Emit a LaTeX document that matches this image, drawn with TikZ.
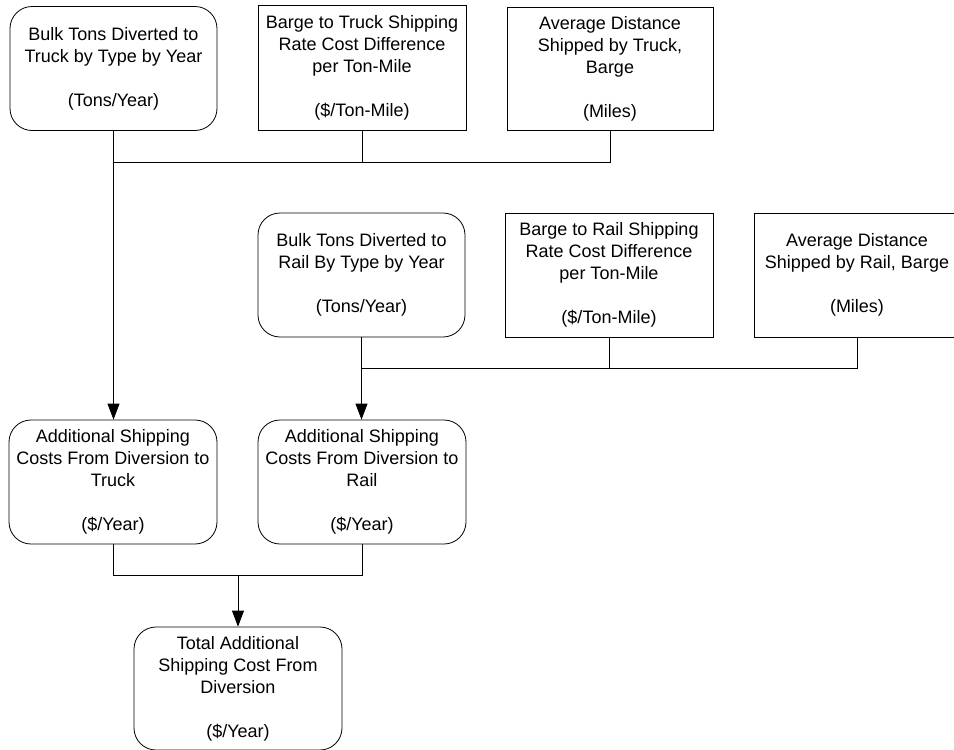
\documentclass[tikz,border=0pt]{standalone}
\usepackage{fontspec}
\setmainfont{Liberation Sans}
\usepackage{tikz}
\usetikzlibrary{arrows.meta, positioning, calc}

\begin{document}
\begin{tikzpicture}[x=1pt, y=-1pt,
    roundbox/.style={draw, line width=0.8pt, rounded corners=22pt, align=center,
      inner sep=2pt, minimum width=207pt, minimum height=124pt,
      font=\fontsize{18}{22}\selectfont},
    squarebox/.style={draw, line width=0.8pt, align=center,
      inner sep=2pt, minimum width=207pt, minimum height=124pt,
      font=\fontsize{18}{22}\selectfont},
    link/.style={line width=0.8pt},
    arrowlink/.style={line width=0.8pt, -{Triangle[length=16pt, width=12pt]}}]
  \useasboundingbox (0,0) rectangle (954,750);

  % Truck inputs
  \node[roundbox] (tonstruck) at (113.5, 68.5)
    {Bulk Tons Diverted to\\Truck by Type by Year\\[22pt](Tons/Year)};
  \node[squarebox, minimum width=208pt, minimum height=125pt] (ratetruck) at (362, 67.5)
    {Barge to Truck Shipping\\Rate Cost Difference\\per Ton-Mile\\[22pt](\$/Ton-Mile)};
  \node[squarebox, minimum width=206pt, minimum height=123pt] (disttruck) at (610, 68.5)
    {Average Distance\\Shipped by Truck,\\Barge\\[22pt](Miles)};

  % Rail inputs
  \node[roundbox] (tonsrail) at (361.5, 275)
    {Bulk Tons Diverted to\\Rail By Type by Year\\[22pt](Tons/Year)};
  \node[squarebox, minimum width=208pt] (raterail) at (609, 275)
    {Barge to Rail Shipping\\Rate Cost Difference\\per Ton-Mile\\[22pt](\$/Ton-Mile)};
  \node[squarebox, minimum width=206pt] (distrail) at (857, 275)
    {Average Distance\\Shipped by Rail, Barge\\[22pt](Miles)};

  % Costs
  \node[roundbox, minimum width=208pt] (costtruck) at (113, 482)
    {Additional Shipping\\Costs From Diversion to\\Truck\\[22pt](\$/Year)};
  \node[roundbox, minimum width=208pt] (costrail) at (362, 482)
    {Additional Shipping\\Costs From Diversion to\\Rail\\[22pt](\$/Year)};
  \node[roundbox, minimum width=208pt, minimum height=123pt] (costtotal) at (238, 688.5)
    {Total Additional\\Shipping Cost From\\Diversion\\[22pt](\$/Year)};

  % Buses
  \coordinate (bustruck) at (0, 162);
  \coordinate (busrail) at (0, 368);
  \coordinate (buscost) at (0, 575);

  \draw[link] (tonstruck.south) |- (disttruck.south |- bustruck) -- (disttruck.south);
  \draw[link] (ratetruck.south) -- (ratetruck.south |- bustruck);
  \draw[arrowlink] (tonstruck.south |- bustruck) -- (tonstruck.south |- costtruck.north);

  \draw[link] (tonsrail.south) |- (distrail.south |- busrail) -- (distrail.south);
  \draw[link] (raterail.south) -- (raterail.south |- busrail);
  \draw[arrowlink] (tonsrail.south |- busrail) -- (tonsrail.south |- costrail.north);

  \draw[link] (costtruck.south) |- (costrail.south |- buscost) -- (costrail.south);
  \draw[arrowlink] (costtotal.north |- buscost) -- (costtotal.north);
\end{tikzpicture}
\end{document}
